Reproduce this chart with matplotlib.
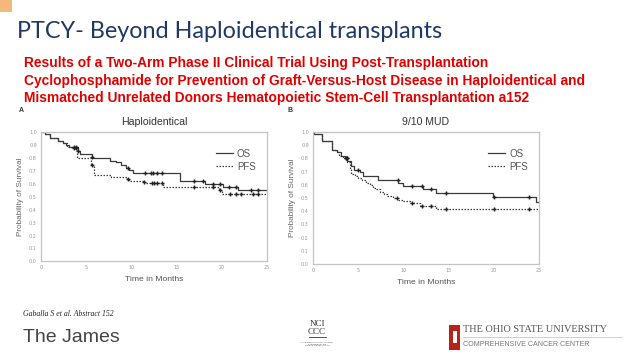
import numpy as np
import matplotlib
matplotlib.use("Agg")
import matplotlib.pyplot as plt
from matplotlib.lines import Line2D
from matplotlib.patches import Rectangle

# ── data ─────────────────────────────────────────────────────────────
HAPLO_OS_T = [0, 0.45, 1.0, 1.85, 2.4, 2.8, 3.15, 4.1, 4.3, 5.6, 5.8, 7.6, 8.35, 8.9, 9.45, 9.7, 10.2, 15.4, 18.2, 20.2, 21.8]
HAPLO_OS_S = [1.0, 0.985, 0.955, 0.935, 0.92, 0.905, 0.888, 0.855, 0.83, 0.81, 0.80, 0.78, 0.77, 0.75, 0.72, 0.71, 0.685, 0.625, 0.60, 0.575, 0.55]
HAPLO_OS_CENS = [3.6, 3.9, 4.15, 5.65, 9.6, 11.5, 12.15, 12.45, 12.8, 13.4, 16.9, 17.9, 19.0, 19.8, 20.8, 21.6, 23.3, 24.0]

HAPLO_PFS_T = [0, 0.45, 1.0, 1.85, 2.4, 2.9, 3.6, 4.0, 5.5, 5.85, 7.7, 9.5, 9.7, 11.3, 11.5, 13.55, 19.7, 20.0]
HAPLO_PFS_S = [1.0, 0.985, 0.955, 0.935, 0.92, 0.885, 0.875, 0.80, 0.745, 0.67, 0.655, 0.64, 0.625, 0.615, 0.605, 0.576, 0.553, 0.525]
HAPLO_PFS_CENS = [3.6, 3.9, 5.6, 9.65, 11.45, 12.3, 12.55, 12.9, 13.4, 16.9, 19.1, 19.8, 20.9, 21.6, 22.2, 23.5, 24.0]

MUD_OS_T = [0, 0.1, 0.95, 2.05, 2.6, 3.15, 3.5, 3.8, 4.2, 4.55, 5.2, 5.5, 7.2, 9.45, 9.95, 12.2, 13.6, 19.9, 24.7]
MUD_OS_S = [1.0, 0.985, 0.934, 0.866, 0.848, 0.815, 0.80, 0.78, 0.74, 0.71, 0.695, 0.665, 0.638, 0.613, 0.592, 0.567, 0.537, 0.506, 0.473]
MUD_OS_CENS = [3.6, 3.75, 5.0, 9.35, 10.9, 12.1, 13.1, 14.75, 20.0, 23.9]

MUD_PFS_T = [0, 0.1, 0.95, 2.05, 2.6, 2.9, 3.3, 3.8, 4.05, 4.25, 4.6, 5.0, 5.4, 5.9, 6.3, 6.65, 7.0, 7.4, 7.8, 8.2, 8.8, 9.4, 10.0, 10.7, 11.8, 13.6]
MUD_PFS_S = [1.0, 0.985, 0.934, 0.866, 0.845, 0.815, 0.80, 0.77, 0.72, 0.685, 0.67, 0.655, 0.64, 0.615, 0.60, 0.575, 0.565, 0.545, 0.53, 0.515, 0.50, 0.486, 0.475, 0.464, 0.44, 0.414]
MUD_PFS_CENS = [3.6, 3.75, 9.3, 10.9, 12.1, 13.05, 14.7, 20.05, 23.85]

X_TICKS = [0, 5, 10, 15, 20, 25]
Y_TICKS = [0.0, 0.1, 0.2, 0.3, 0.4, 0.5, 0.6, 0.7, 0.8, 0.9, 1.0]

TITLE = "PTCY- Beyond Haploidentical transplants"
SUBTITLE = ["Results of a Two-Arm Phase II Clinical Trial Using Post-Transplantation",
            "Cyclophosphamide for Prevention of Graft-Versus-Host Disease in Haploidentical and",
            "Mismatched Unrelated Donors Hematopoietic Stem-Cell Transplantation a152"]

SANS = ["Liberation Sans", "DejaVu Sans"]
TITLE_FONT = ["Lato", "Liberation Sans", "DejaVu Sans"]
NARROW = ["Liberation Sans Narrow", "Liberation Sans", "DejaVu Sans"]
SERIF = ["Liberation Serif", "DejaVu Serif"]

fig = plt.figure(figsize=(6.38, 3.59), dpi=100)
fig.patch.set_facecolor("white")


def fx(px):
    return px / 638


def fy(py):
    return 1 - py / 359


def step_at(t, s, x):
    i = np.searchsorted(np.asarray(t), x, side="right") - 1
    return np.asarray(s)[i]


def km_panel(rect, title, os_t, os_s, os_c, pfs_t, pfs_s, pfs_c):
    ax = fig.add_axes(rect)
    dot = (0, (1.2, 1.2))
    ax.step(os_t + [25], os_s + [os_s[-1]], where="post", color="#3a3a3a", lw=0.9)
    ax.step(pfs_t + [25], pfs_s + [pfs_s[-1]], where="post", color="#3a3a3a", lw=0.9, linestyle=dot)
    ax.plot(os_c, step_at(os_t, os_s, os_c), "+", color="#222222", ms=3.3, mew=1.0)
    ax.plot(pfs_c, step_at(pfs_t, pfs_s, pfs_c), "+", color="#222222", ms=3.3, mew=1.0)
    ax.set_xlim(0, 25)
    ax.set_ylim(0, 1.0)
    ax.set_xticks(X_TICKS)
    ax.set_yticks(Y_TICKS)
    ax.set_yticklabels([f"{v:.1f}" for v in Y_TICKS])
    ax.tick_params(length=0, labelsize=3.5, labelcolor="#999999", pad=3)
    for sp in ax.spines.values():
        sp.set_color("#c4c4c4")
        sp.set_linewidth(0.9)
    ax.set_title(title, fontsize=7.6, color="#333333", family=SANS, pad=5)
    ax.set_xlabel("Time in Months", fontsize=6.1, color="#555555", family=SANS, labelpad=4)
    ax.set_ylabel("Probability of Survival", fontsize=5.9, color="#666666", family=SANS, labelpad=4)
    handles = [Line2D([], [], color="#3a3a3a", lw=0.9),
               Line2D([], [], color="#3a3a3a", lw=0.9, linestyle=dot)]
    leg = ax.legend(handles, ["OS", "PFS"], loc="upper right", bbox_to_anchor=(0.99, 0.94),
                    frameon=False, handlelength=1.8, handletextpad=0.4,
                    labelspacing=0.3, prop={"family": SANS, "size": 7})
    for txt in leg.get_texts():
        txt.set_color("#555555")
    return ax


km_panel([fx(41), fy(261.3), fx(225.7), 129 / 359], "Haploidentical",
         HAPLO_OS_T, HAPLO_OS_S, HAPLO_OS_CENS, HAPLO_PFS_T, HAPLO_PFS_S, HAPLO_PFS_CENS)
km_panel([fx(313), fy(264), fx(226), 132 / 359], "9/10 MUD",
         MUD_OS_T, MUD_OS_S, MUD_OS_CENS, MUD_PFS_T, MUD_PFS_S, MUD_PFS_CENS)

# ── slide text ───────────────────────────────────────────────────────
fig.patches.append(Rectangle((0, fy(12)), fx(12), 12 / 359, transform=fig.transFigure,
                             facecolor="#f2b97a", edgecolor="none"))
fig.text(fx(17), fy(32), TITLE, fontsize=16.8, color="#1f3864", family=TITLE_FONT,
         fontweight="normal", va="center", ha="left")
for i, line in enumerate(SUBTITLE):
    fig.text(fx(24.5), fy(63 + 17.5 * i), line, fontsize=9.9, color="#e00000",
             family=NARROW, fontweight="bold", va="center", ha="left")
fig.text(fx(19), fy(110), "A", fontsize=5, color="#333333", family=SANS, fontweight="bold", va="center")
fig.text(fx(287), fy(110), "B", fontsize=5, color="#333333", family=SANS, fontweight="bold", va="center")

# ── footer ───────────────────────────────────────────────────────────
fig.text(fx(23), fy(314), "Gaballa S et al. Abstract 152", fontsize=5.6, style="italic",
         color="#222222", family=SERIF, va="center")
fig.text(fx(23), fy(338), "The James", fontsize=14, color="#444444", family=SANS, va="center")
fig.text(fx(317), fy(328), "NCI\nCCC", fontsize=6.5, color="#333333", family=SERIF,
         va="center", ha="center", linespacing=0.85)
fig.add_artist(Line2D([fx(309), fx(326)], [fy(337), fy(337)], color="#333333", lw=0.6))
fig.text(fx(317), fy(344), "A Comprehensive Cancer Center\nDesignated by the\nNational Cancer Institute",
         fontsize=1.6, color="#555555", family=SANS, va="center", ha="center")
fig.patches.append(Rectangle((fx(449), fy(350)), fx(11), 25 / 359, transform=fig.transFigure,
                             facecolor="#b5231b", edgecolor="none"))
fig.patches.append(Rectangle((fx(452.5), fy(343)), fx(4), 12 / 359, transform=fig.transFigure,
                             facecolor="white", edgecolor="none"))
fig.text(fx(463), fy(330), "THE OHIO STATE UNIVERSITY", fontsize=7.4, color="#555555",
         family=SERIF, va="center")
fig.add_artist(Line2D([fx(463), fx(622)], [fy(337), fy(337)], color="#bbbbbb", lw=0.5))
fig.text(fx(463), fy(345), "COMPREHENSIVE CANCER CENTER", fontsize=5.1, color="#777777",
         family=SANS, va="center")

fig.savefig("out.png", dpi=100)
